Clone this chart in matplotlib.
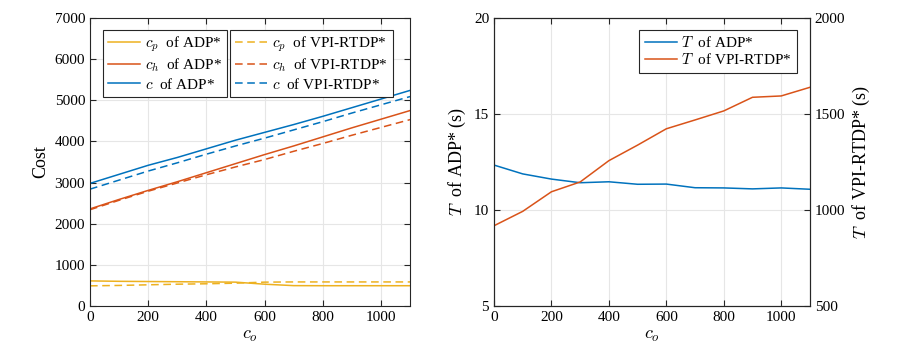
import matplotlib
matplotlib.use("Agg")
import matplotlib.pyplot as plt

plt.rcParams['font.family'] = ['Liberation Serif', 'DejaVu Serif']
plt.rcParams['mathtext.fontset'] = 'cm'

co = [0, 100, 200, 300, 400, 500, 600, 700, 800, 900, 1000, 1100]
c_adp = [2980, 3200, 3420, 3610, 3820, 4030, 4220, 4410, 4610, 4820, 5030, 5240]
c_vpi = [2840, 3060, 3280, 3480, 3690, 3890, 4080, 4280, 4480, 4690, 4890, 5090]
ch_adp = [2360, 2590, 2810, 3020, 3240, 3460, 3680, 3890, 4110, 4330, 4540, 4750]
ch_vpi = [2340, 2570, 2790, 2990, 3190, 3380, 3560, 3760, 3950, 4150, 4340, 4530]
cp_adp = [610, 600, 595, 590, 585, 580, 530, 495, 493, 493, 493, 493]
cp_vpi = [490, 500, 515, 530, 540, 555, 580, 585, 585, 585, 585, 585]

T_adp = [12.34, 11.88, 11.61, 11.42, 11.47, 11.34, 11.35, 11.16, 11.15, 11.10, 11.15, 11.08]
T_vpi = [918, 993, 1095, 1146, 1257, 1338, 1423, 1469, 1516, 1587, 1594, 1639]

blue = '#0072BD'
red = '#D95319'
yellow = '#EDB120'

fig = plt.figure(figsize=(9, 3.6), dpi=100)
ax1 = fig.add_axes([0.1, 0.15, 0.3556, 0.8])
ax2 = fig.add_axes([0.5489, 0.15, 0.351, 0.8])

def style(ax):
    ax.grid(True, color='#e6e6e6', linewidth=0.8)
    ax.set_axisbelow(True)
    ax.tick_params(direction='in', length=4, labelsize=11, color='#262626', top=True)
    for s in ax.spines.values():
        s.set_color('#262626')
        s.set_linewidth(0.8)

lw = 1.1
l1, = ax1.plot(co, cp_adp, color=yellow, lw=lw)
l2, = ax1.plot(co, ch_adp, color=red, lw=lw)
l3, = ax1.plot(co, c_adp, color=blue, lw=lw)
l4, = ax1.plot(co, cp_vpi, color=yellow, lw=lw, ls=(0, (5, 3)))
l5, = ax1.plot(co, ch_vpi, color=red, lw=lw, ls=(0, (5, 3)))
l6, = ax1.plot(co, c_vpi, color=blue, lw=lw, ls=(0, (5, 3)))
ax1.set_xlim(0, 1100)
ax1.set_ylim(0, 7000)
ax1.set_xticks([0, 200, 400, 600, 800, 1000])
ax1.set_yticks(range(0, 7001, 1000))
style(ax1)
ax1.tick_params(right=True)
ax1.set_xlabel(r'$c_o$', fontsize=13, labelpad=2)
ax1.set_ylabel('Cost', fontsize=13)

legkw = dict(fontsize=11, frameon=True, fancybox=False, edgecolor='#262626',
             framealpha=1, handlelength=2.1, handletextpad=0.3, borderpad=0.35,
             labelspacing=0.15, borderaxespad=0)
leg1 = ax1.legend([l1, l2, l3], [r'$c_p$  of ADP*', r'$c_h$  of ADP*', r'$c$  of ADP*'],
                  loc='upper left', bbox_to_anchor=(0.04, 0.96), **legkw)
leg1.get_frame().set_linewidth(0.8)
ax1.add_artist(leg1)
leg2 = ax1.legend([l4, l5, l6], [r'$c_p$  of VPI-RTDP*', r'$c_h$  of VPI-RTDP*', r'$c$  of VPI-RTDP*'],
                  loc='upper left', bbox_to_anchor=(0.4375, 0.96), **legkw)
leg2.get_frame().set_linewidth(0.8)

m1, = ax2.plot(co, T_adp, color=blue, lw=lw)
ax2.set_xlim(0, 1100)
ax2.set_ylim(5, 20)
ax2.set_yticks([5, 10, 15, 20])
ax2.set_xticks([0, 200, 400, 600, 800, 1000])
style(ax2)
ax2.tick_params(right=False)
ax2.set_xlabel(r'$c_o$', fontsize=13, labelpad=2)
ax2.set_ylabel(r'$T$  of ADP* (s)', fontsize=13)

ax3 = ax2.twinx()
m2, = ax3.plot(co, T_vpi, color=red, lw=lw)
ax3.set_ylim(500, 2000)
ax3.set_yticks([500, 1000, 1500, 2000])
ax3.tick_params(direction='in', length=4, labelsize=11, color='#262626')
ax3.set_ylabel(r'$T$  of VPI-RTDP* (s)', fontsize=13)
for s in ax3.spines.values():
    s.set_color('#262626')
    s.set_linewidth(0.8)

leg3 = ax3.legend([m1, m2], [r'$T$  of ADP*', r'$T$  of VPI-RTDP*'],
                  loc='upper right', bbox_to_anchor=(0.96, 0.96), **legkw)
leg3.get_frame().set_linewidth(0.8)

fig.savefig('out.png', dpi=100)
